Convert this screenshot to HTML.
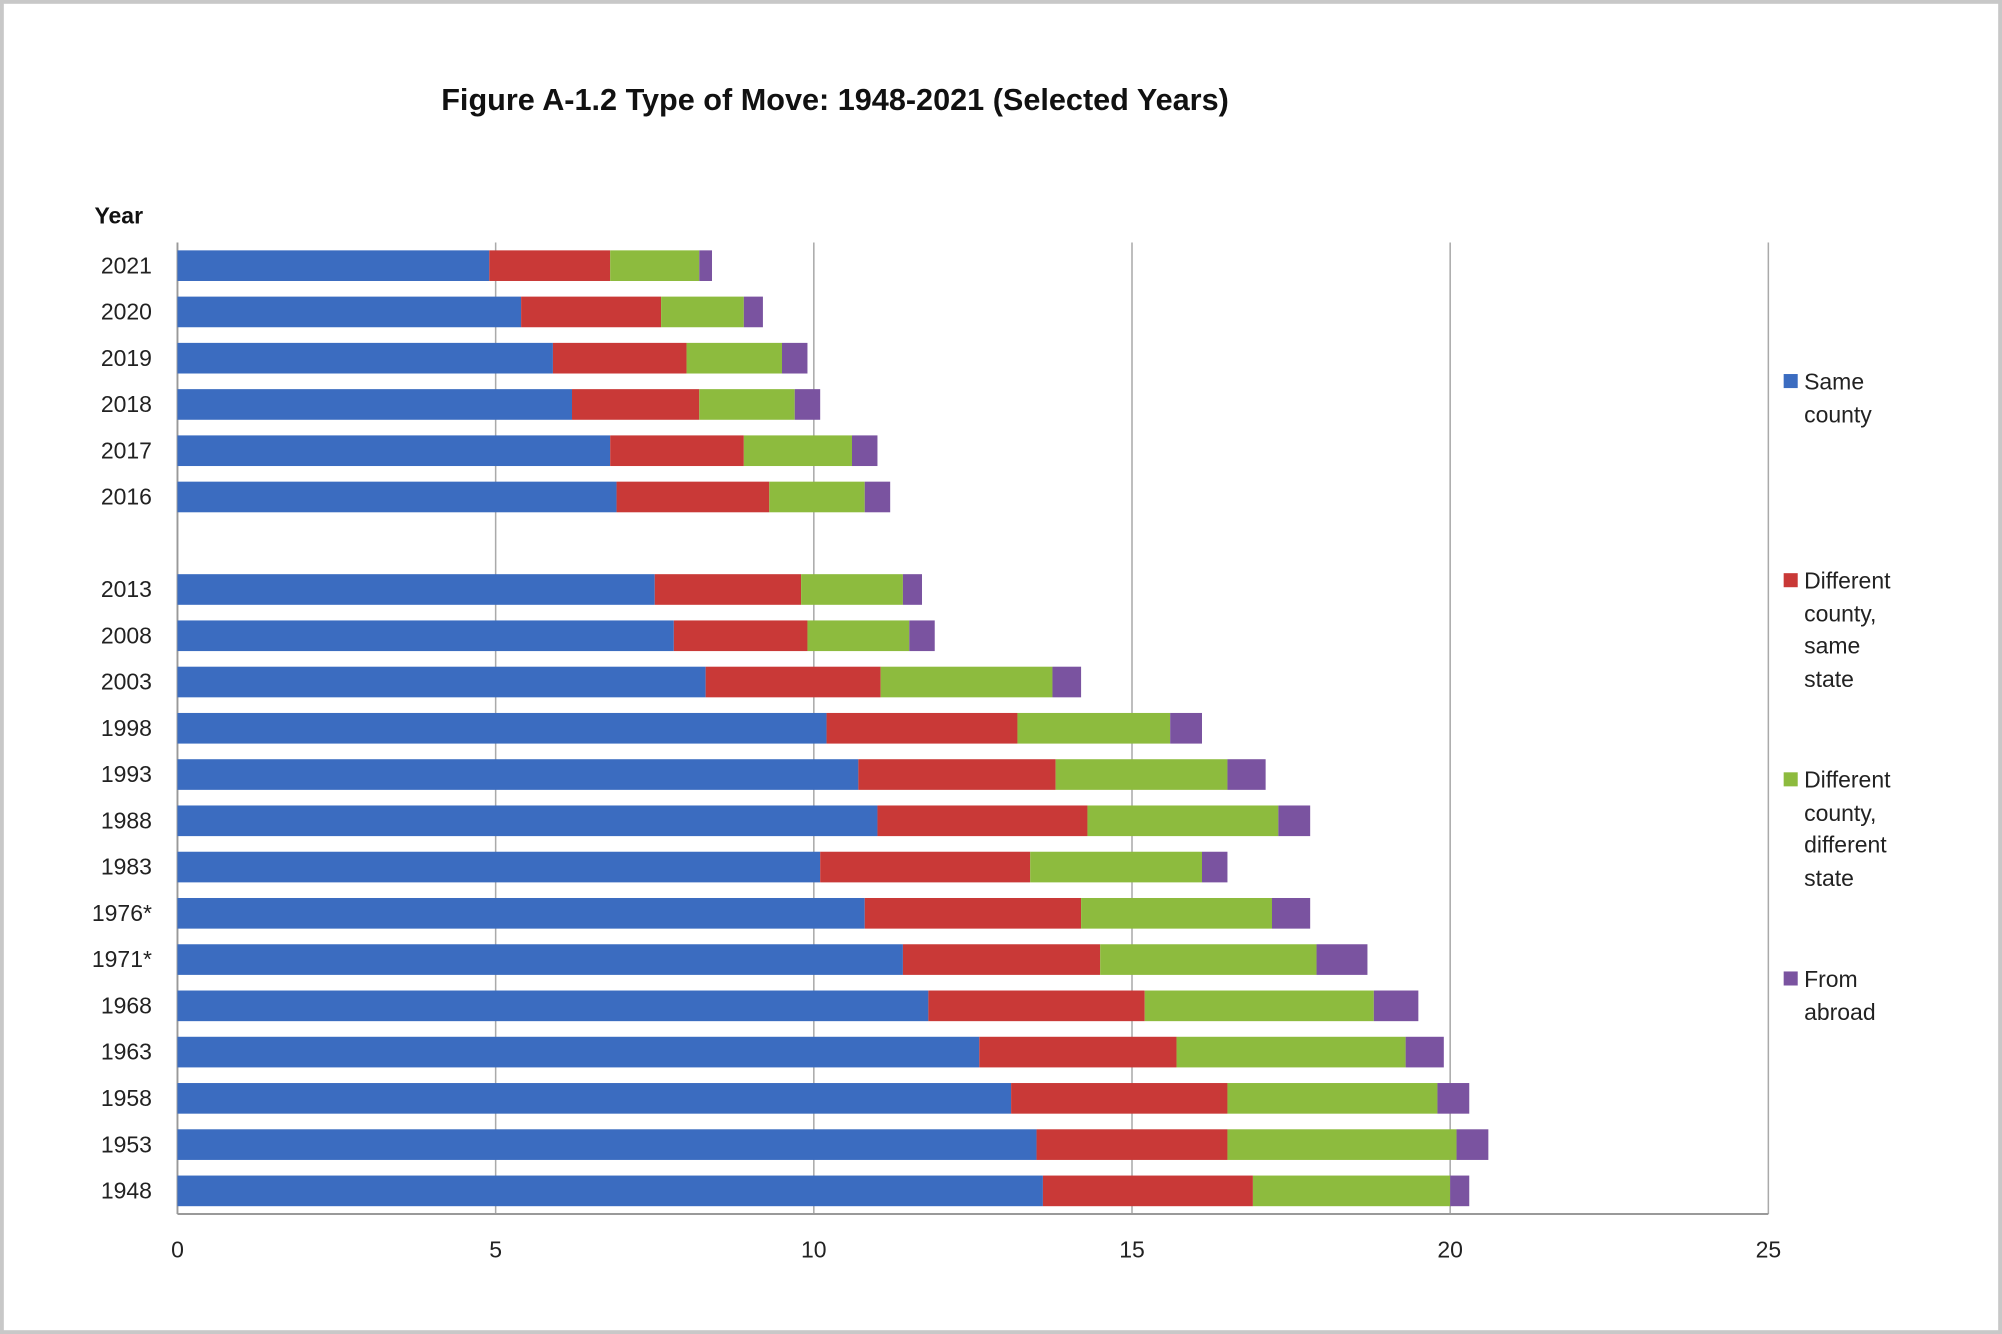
<!DOCTYPE html>
<html><head><meta charset="utf-8"><style>
html,body{margin:0;padding:0;background:#fff;}
svg{display:block;font-family:"Liberation Sans",sans-serif;}
</style></head><body>
<svg id="chart" width="2002" height="1334" viewBox="0 0 1568 1045" preserveAspectRatio="none" xmlns="http://www.w3.org/2000/svg">
<rect x="1.5" y="1.5" width="1565" height="1042" fill="#fff" stroke="#c8c8c8" stroke-width="3"/>
<text x="654" y="86" text-anchor="middle" font-size="24" font-weight="bold" fill="#111">Figure A-1.2 Type of Move: 1948-2021 (Selected Years)</text>
<text x="93" y="175" text-anchor="middle" font-size="18" font-weight="bold" fill="#111">Year</text>
<g id="grid"></g><g id="bars"></g><g id="labels"></g>
<g font-size="18" fill="#222">
<rect x="1397" y="293" width="11" height="11" fill="#3b6cc0"/>
<text x="1413" y="305">Same</text><text x="1413" y="331">county</text>
<rect x="1397" y="449" width="11" height="11" fill="#c93937"/>
<text x="1413" y="461">Different</text><text x="1413" y="487">county,</text><text x="1413" y="512">same</text><text x="1413" y="538">state</text>
<rect x="1397" y="605" width="11" height="11" fill="#8dbb3e"/>
<text x="1413" y="617">Different</text><text x="1413" y="643">county,</text><text x="1413" y="668">different</text><text x="1413" y="694">state</text>
<rect x="1397" y="761" width="11" height="11" fill="#7a53a0"/>
<text x="1413" y="773">From</text><text x="1413" y="799">abroad</text>
</g>
</svg>
<script>
const categories=["2021","2020","2019","2018","2017","2016","","2013","2008","2003","1998","1993","1988","1983","1976*","1971*","1968","1963","1958","1953","1948"];
const sameCounty=[4.9,5.4,5.9,6.2,6.8,6.9,null,7.5,7.8,8.3,10.2,10.7,11.0,10.1,10.8,11.4,11.8,12.6,13.1,13.5,13.6];
const diffCountySameState=[1.9,2.2,2.1,2.0,2.1,2.4,null,2.3,2.1,2.75,3.0,3.1,3.3,3.3,3.4,3.1,3.4,3.1,3.4,3.0,3.3];
const diffState=[1.4,1.3,1.5,1.5,1.7,1.5,null,1.6,1.6,2.7,2.4,2.7,3.0,2.7,3.0,3.4,3.6,3.6,3.3,3.6,3.1];
const fromAbroad=[0.2,0.3,0.4,0.4,0.4,0.4,null,0.3,0.4,0.45,0.5,0.6,0.5,0.4,0.6,0.8,0.7,0.6,0.5,0.5,0.3];
const xTicks=[0,5,10,15,20,25];
const NS="http://www.w3.org/2000/svg";
const x0=139,x1=1385,xMax=25,plotTop=190,plotBottom=951;
const xs=v=>x0+(x1-x0)*v/xMax;
const step=(plotBottom-plotTop)/categories.length;
const yc=i=>plotTop+step*(i+0.5);
function mk(tag,attrs,parent){const e=document.createElementNS(NS,tag);for(const k in attrs)e.setAttribute(k,attrs[k]);parent.appendChild(e);return e;}
const grid=document.getElementById('grid'),bars=document.getElementById('bars'),labels=document.getElementById('labels');
xTicks.forEach(t=>{
  const l=mk('line',{x1:xs(t),x2:xs(t),y1:plotTop,y2:plotBottom,stroke:t===0?'#999':'#aaa','stroke-width':t===0?1.5:1.2},grid);
  
  
  const tx=mk('text',{x:xs(t),y:plotBottom+34,'text-anchor':'middle','font-size':18,fill:'#222'},labels);
  tx.textContent=t;
  
  
});
const ax=mk('line',{x1:x0,x2:x1,y1:plotBottom,y2:plotBottom,stroke:'#999','stroke-width':1.5},grid);


const series=[[sameCounty,'#3b6cc0','same-county'],[diffCountySameState,'#c93937','diff-county-same-state'],[diffState,'#8dbb3e','diff-state'],[fromAbroad,'#7a53a0','abroad']];
const bh=24;
categories.forEach((c,i)=>{
  if(c){
    const t=mk('text',{x:119,y:yc(i)+6,'text-anchor':'end','font-size':18,fill:'#222'},labels);
    t.textContent=c;
    
    
  }
  let acc=0;
  series.forEach(([arr,col,nm])=>{
    const v=arr[i]; if(v==null)return;
    const r=mk('rect',{x:xs(acc),y:yc(i)-bh/2,width:xs(acc+v)-xs(acc),height:bh,fill:col},bars);
    
    
    acc+=v;
  });
});
</script>
</body></html>
